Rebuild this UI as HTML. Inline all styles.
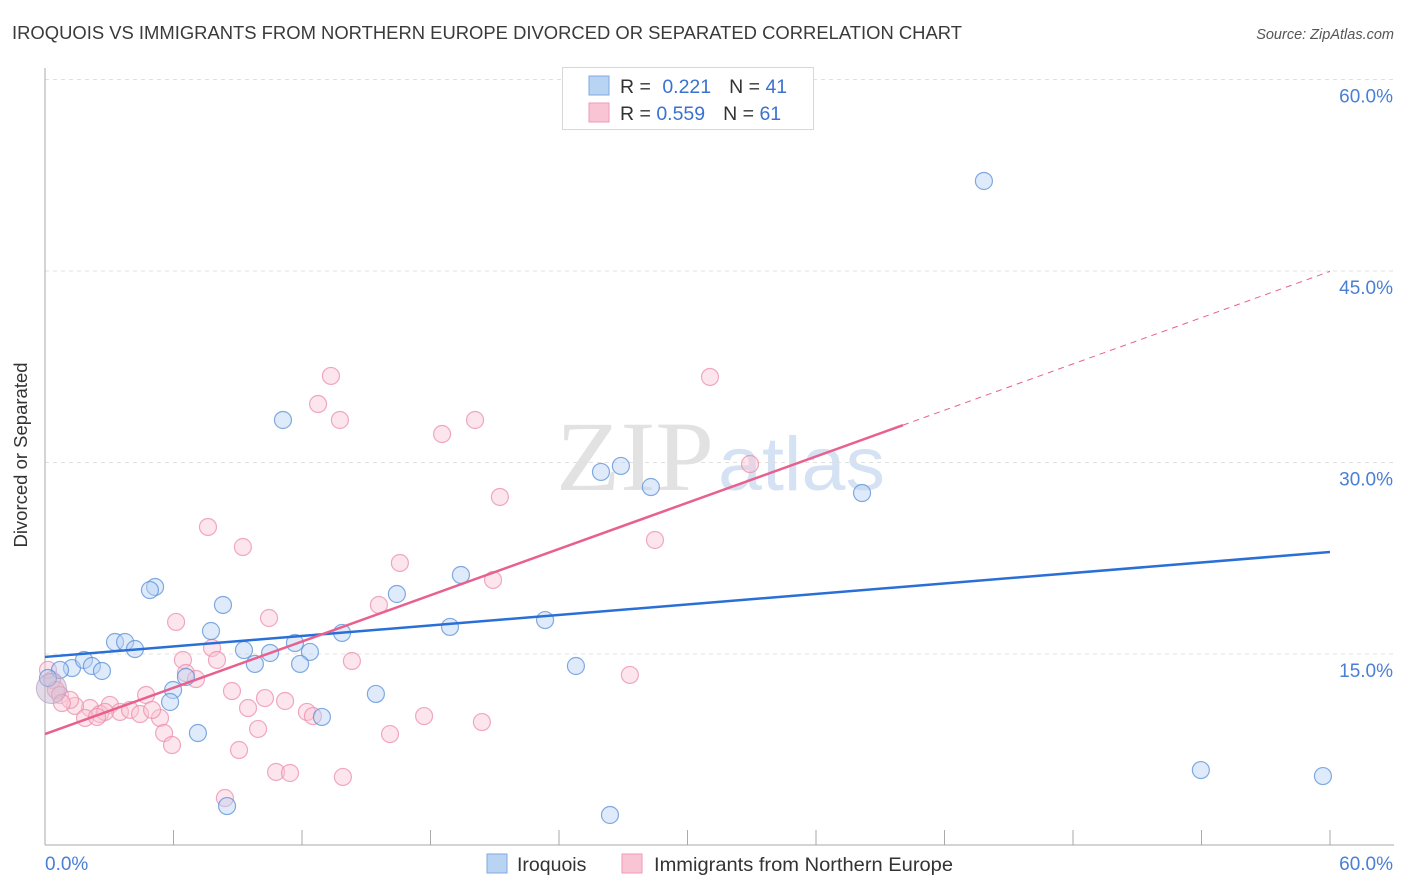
<!DOCTYPE html>
<html><head><meta charset="utf-8"><style>
body{margin:0;background:#fff;width:1406px;height:892px;overflow:hidden;font-family:"Liberation Sans",sans-serif}
svg{display:block}
</style></head><body>
<svg id="chart" width="1406" height="892" xmlns="http://www.w3.org/2000/svg">
<text x="12" y="39" font-size="18" fill="#3a3a3a" textLength="950" lengthAdjust="spacingAndGlyphs">IROQUOIS VS IMMIGRANTS FROM NORTHERN EUROPE DIVORCED OR SEPARATED CORRELATION CHART</text>
<text x="1394" y="39" font-size="14.5" fill="#555" font-style="italic" text-anchor="end">Source: ZipAtlas.com</text>
<text x="714" y="490" font-size="100" fill="#e2e2e2" text-anchor="end" font-family="Liberation Serif,serif" textLength="158" lengthAdjust="spacingAndGlyphs">ZIP</text>
<text x="718" y="490" font-size="76" fill="#d5e2f3" textLength="167" lengthAdjust="spacingAndGlyphs">atlas</text>
<g id="grid"></g>
<g id="axes"></g>
<g id="pts"></g>
<g id="lines"></g>
<text x="27" y="455" font-size="18.5" fill="#333" text-anchor="middle" transform="rotate(-90 27 455)">Divorced or Separated</text>
<g>
<rect x="562.5" y="67.5" width="251" height="62" fill="#fff" stroke="#d8d8d8"/>
<rect x="589" y="76" width="20" height="19" fill="#b9d3f3" stroke="#7ea9e3"/>
<rect x="589" y="103" width="20" height="19" fill="#f9c5d4" stroke="#ef9ab4"/>
<text x="620" y="93" font-size="19.5" fill="#333">R = <tspan fill="#3a72d0" dx="6">0.221</tspan><tspan dx="18">N = </tspan><tspan fill="#3a72d0">41</tspan></text>
<text x="620" y="120" font-size="19.5" fill="#333">R = <tspan fill="#3a72d0">0.559</tspan><tspan dx="18">N = </tspan><tspan fill="#3a72d0">61</tspan></text>
</g>
<g>
<rect x="487" y="854" width="20" height="19" fill="#b9d3f3" stroke="#7ea9e3"/>
<text x="517" y="871" font-size="19.5" fill="#333">Iroquois</text>
<rect x="622" y="854" width="20" height="19" fill="#f9c5d4" stroke="#ef9ab4"/>
<text x="654" y="871" font-size="19.5" fill="#333" textLength="299" lengthAdjust="spacingAndGlyphs">Immigrants from Northern Europe</text>
</g>
</svg>
<script>
const blueX=[43.84,11.11,25.96,26.89,28.29,38.15,5.14,4.90,19.42,16.43,8.31,23.35,18.91,13.87,7.75,3.27,3.74,4.20,9.29,10.51,11.67,12.37,11.91,9.80,1.26,0.70,1.82,2.19,2.66,0.14,6.58,5.98,15.45,5.84,12.93,7.14,24.79,53.97,59.67,8.50,26.38];
const blueY=[52.05,33.33,29.26,29.73,28.08,27.61,20.25,20.01,21.19,19.70,18.84,17.66,17.12,16.65,16.80,15.94,15.94,15.39,15.31,15.08,15.86,15.16,14.22,14.22,13.90,13.75,14.53,14.06,13.67,13.12,13.20,12.18,11.87,11.24,10.07,8.81,14.06,5.91,5.44,3.09,2.39];
const pinkX=[13.35,31.05,12.75,13.77,20.08,18.54,21.24,7.61,9.24,28.48,16.57,20.92,15.59,10.46,6.12,7.80,6.44,14.33,8.03,6.58,7.05,27.31,32.92,0.14,0.33,0.51,0.70,8.73,10.27,11.21,4.72,3.03,2.10,1.40,1.17,2.57,3.50,3.97,4.44,5.37,5.00,9.48,12.23,12.51,17.70,20.40,1.87,9.95,5.56,16.11,5.93,9.06,10.79,11.44,13.91,8.40,2.80,2.43,0.79];
const pinkY=[36.78,36.70,34.58,33.33,33.33,32.23,27.30,24.95,23.38,23.93,22.13,20.80,18.84,17.82,17.51,15.47,14.53,14.45,14.53,13.51,13.04,13.36,29.88,13.75,12.97,12.18,11.79,12.10,11.55,11.32,11.79,11.01,10.77,10.93,11.40,10.30,10.46,10.62,10.30,9.99,10.62,10.77,10.46,10.14,10.14,9.67,9.99,9.13,8.81,8.73,7.87,7.48,5.76,5.68,5.37,3.72,10.46,10.07,11.16];
const blueFit=[14.77,22.99];
const pinkFit=[8.73,0.604];
const pinkSolidEnd=40.06;
const yTicks=[15,30,45,60];
const xTickLabels=["0.0%","60.0%"];
const NS="http://www.w3.org/2000/svg";
const sx=v=>45+v/60*1285, sy=v=>845.5-v/15*191.5;
function mk(tag,attrs,parent){const e=document.createElementNS(NS,tag);for(const k in attrs)e.setAttribute(k,attrs[k]);parent.appendChild(e);return e;}
const grid=document.getElementById('grid'),axes=document.getElementById('axes'),pts=document.getElementById('pts'),lines=document.getElementById('lines');
yTicks.forEach(t=>{const l=mk('line',{x1:45,x2:1394,y1:sy(t),y2:sy(t),stroke:'#e0e0e0','stroke-dasharray':'4 4'},grid);


const tx=mk('text',{x:1393,y:sy(t)+23,'font-size':19,fill:'#4a7fd6','text-anchor':'end'},axes);tx.textContent=t.toFixed(1)+'%';

});
const ax=mk('line',{x1:45,x2:45,y1:68,y2:845,stroke:'#aaa'},axes);


const bx=mk('line',{x1:45,x2:1394,y1:845,y2:845,stroke:'#aaa'},axes);


for(let i=0;i<=10;i++){const t=mk('line',{x1:sx(i*6),x2:sx(i*6),y1:830,y2:845,stroke:'#aaa'},axes);

}
[[0,'start',45],[60,'end',1393]].forEach((a,i)=>{const t=mk('text',{x:a[2],y:870,'font-size':19,fill:'#4a7fd6','text-anchor':a[1]},axes);t.textContent=xTickLabels[i];

});
function drawPts(X,Y,fill,stroke,name){X.forEach((x,i)=>{const c=mk('circle',{cx:sx(x),cy:sy(Y[i]),r:8.5,fill:fill,'fill-opacity':0.45,stroke:stroke,'stroke-opacity':0.75,'stroke-width':1.2},pts);

});}
drawPts(pinkX,pinkY,'#f9c5d4','#ec8eab','northern-europe');
drawPts(blueX,blueY,'#b9d3f3','#5a8fd8','iroquois');
const big=mk('circle',{cx:sx(0.3),cy:sy(12.3),r:15,fill:'#c8b5cf','fill-opacity':0.5,stroke:'#b59ac0','stroke-opacity':0.7},pts);


const bl=mk('line',{x1:sx(0),y1:sy(blueFit[0]),x2:sx(60),y2:sy(blueFit[1]),stroke:'#2a6fd6','stroke-width':2.5},lines);


const pl=mk('line',{x1:sx(0),y1:sy(pinkFit[0]),x2:sx(pinkSolidEnd),y2:sy(pinkFit[0]+pinkFit[1]*pinkSolidEnd),stroke:'#e8608e','stroke-width':2.5},lines);


const pd=mk('line',{x1:sx(pinkSolidEnd),y1:sy(pinkFit[0]+pinkFit[1]*pinkSolidEnd),x2:sx(60),y2:sy(pinkFit[0]+pinkFit[1]*60),stroke:'#e8608e','stroke-width':1,'stroke-dasharray':'6 5'},lines);


</script>
</body></html>
